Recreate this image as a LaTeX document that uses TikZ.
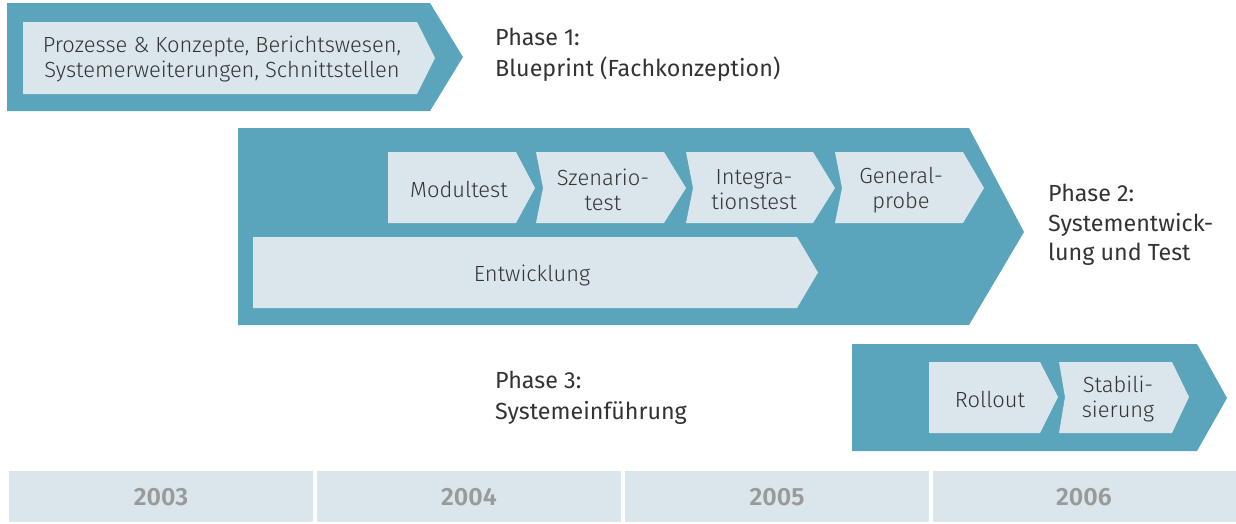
\documentclass[tikz,border=0pt]{standalone}
\usepackage{fontspec}
\setmainfont{Fira Sans}
\newfontfamily\lightfont{Fira Sans Light}
\newfontfamily\yearfont{Fira Sans SemiBold}
\definecolor{tealc}{HTML}{5AA5BB}
\definecolor{lightc}{HTML}{DAE6EC}
\definecolor{darkc}{HTML}{333333}
\definecolor{yearc}{HTML}{9A9A9A}
\newcommand{\chevshape}[8]{\fill[#1] (#2,#3) -- (#4,#3) -- (#6,#7) -- (#4,#5) -- (#2,#5) -- ({#2+#8},#7) -- cycle;}
\begin{document}
\begin{tikzpicture}[x=1pt,y=-1pt,
  outerc/.style={fill=tealc},
  innerc/.style={fill=lightc},
  boxtext/.style={font=\lightfont\fontsize{21.9}{25}\selectfont, text=darkc, align=center, inner sep=0pt},
  phasetext/.style={font=\fontsize{23.3}{31}\selectfont, text=darkc, align=left, inner sep=0pt, anchor=west},
  phasetwo/.style={phasetext, font=\fontsize{23.3}{29.5}\selectfont},
  yearbox/.style={fill=lightc},
  yeartext/.style={font=\yearfont\fontsize{25}{28}\selectfont, text=yearc, inner sep=0pt}]
\useasboundingbox (0,0) rectangle (1236,523);
% Phase 1
\chevshape{outerc}{7}{3}{430}{111}{463}{57}{0}
\chevshape{innerc}{23}{22}{417}{94}{435}{58}{0}
\node[boxtext] (p1txt) at (222,58.5) {Prozesse \& Konzepte, Berichtswesen,\\Systemerweiterungen, Schnittstellen};
\node[phasetext] (p1lbl) at (495,54.5) {Phase 1:\\Blueprint (Fachkonzeption)};
% Phase 2
\chevshape{outerc}{238}{128}{969}{325}{1024}{232}{0}
\chevshape{innerc}{388}{152}{516}{223}{535}{188}{0}
\chevshape{innerc}{536}{152}{664}{223}{686}{188}{7}
\chevshape{innerc}{686}{152}{813}{223}{835}{188}{7}
\chevshape{innerc}{835}{152}{963}{223}{984}{188}{7}
\chevshape{innerc}{253}{237}{797}{308}{818}{272.5}{0}
\node[boxtext] (modul) at (459,189) {Modultest};
\node[boxtext] (szen) at (603,190) {Szenario-\\test};
\node[boxtext] (integ) at (754,190) {Integra-\\tionstest};
\node[boxtext] (gener) at (901,190) {General-\\probe};
\node[boxtext] (entw) at (532,275) {Entwicklung};
\node[phasetwo] (p2lbl) at (1048,225) {Phase 2:\\Systementwick-\\lung und Test};
% Phase 3
\chevshape{outerc}{852}{344}{1197}{451}{1227}{398}{0}
\chevshape{innerc}{929}{362}{1040}{433}{1058}{397}{0}
\chevshape{innerc}{1059}{362}{1172}{433}{1189}{397}{6}
\node[boxtext] (roll) at (990,399) {Rollout};
\node[boxtext] (stab) at (1118,399) {Stabili-\\sierung};
\node[phasetext] (p3lbl) at (495,397.5) {Phase 3:\\Systemeinführung};
% Years
\fill[yearbox] (9,471) rectangle (313,522);
\fill[yearbox] (317,471) rectangle (621,522);
\fill[yearbox] (625,471) rectangle (929,522);
\fill[yearbox] (933,471) rectangle (1236,522);
\node[yeartext] (y3) at (161,497) {2003};
\node[yeartext] (y4) at (469,497) {2004};
\node[yeartext] (y5) at (777,497) {2005};
\node[yeartext] (y6) at (1084,497) {2006};
\end{tikzpicture}
\end{document}
